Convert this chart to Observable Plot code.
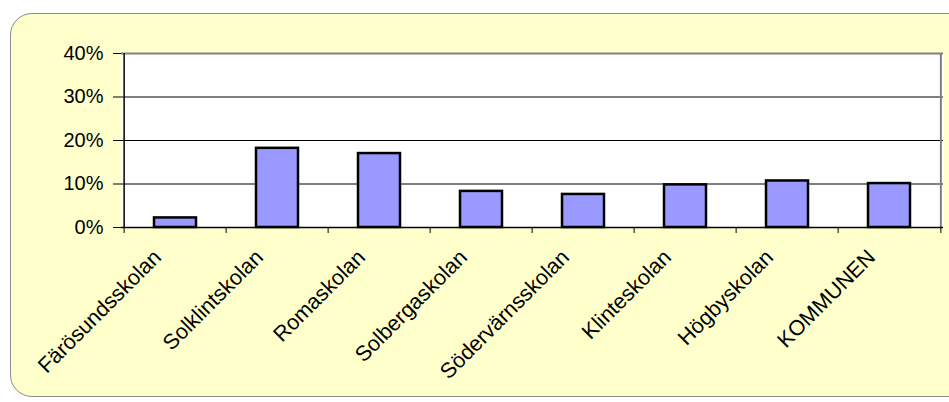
<!DOCTYPE html>
<html>
<head>
<meta charset="utf-8">
<script src="https://cdn.jsdelivr.net/npm/d3@7"></script>
<script src="https://cdn.jsdelivr.net/npm/@observablehq/plot@0.6"></script>
<style>
  html, body { margin: 0; padding: 0; background: #ffffff; }
  #wrap { position: relative; width: 949px; height: 402px; overflow: hidden; }
  #panel { position: absolute; left: 10px; top: 13px; width: 980px; height: 382px;
           background: #FFFFCC; border: 1.5px solid #8a8a8a; border-radius: 22px; }
  #chart { position: absolute; left: 0; top: 0; }
</style>
</head>
<body>
<div id="wrap"><div id="panel"></div><div id="chart"></div></div>
<script>
const schools = ["Färösundsskolan", "Solklintskolan", "Romaskolan", "Solbergaskolan",
                 "Södervärnsskolan", "Klinteskolan", "Högbyskolan", "KOMMUNEN"];
const shares = [2.2, 18.2, 17.0, 8.3, 7.6, 9.8, 10.7, 10.1];
const yTicks = [0, 10, 20, 30, 40];

const data = schools.map((s, i) => ({school: s, share: shares[i]}));

const W = 949, H = 402, mL = 121, mR = 6, mT = 53, mB = 175;
const step = (W - mL - mR) / schools.length;
const font = "Arial, 'Liberation Sans', sans-serif";

const chart = Plot.plot({
  width: W, height: H,
  marginLeft: mL, marginRight: mR, marginTop: mT, marginBottom: mB,
  style: {background: "transparent", fontFamily: font, color: "black", overflow: "visible"},
  x: {domain: schools, paddingInner: 0.59, paddingOuter: 0.295, axis: null},
  y: {domain: [0, 40], axis: null},
  marks: [
    Plot.frame({fill: "white", stroke: null}),
    Plot.ruleY(yTicks.filter(d => d > 0 && d < 40), {stroke: "black", strokeWidth: 1}),
    Plot.ruleY([40], {stroke: "#808080", strokeWidth: 2}),
    Plot.ruleX([schools[schools.length - 1]], {dx: step / 2, stroke: "#808080", strokeWidth: 2}),
    Plot.barY(data, {x: "school", y: "share", fill: "#9999FF", stroke: "black", strokeWidth: 2.5}),
    Plot.ruleY([0], {stroke: "black", strokeWidth: 1.5}),
    Plot.ruleX([schools[0]], {dx: -step / 2, stroke: "black", strokeWidth: 1.5}),
    Plot.axisX({tickSize: 6, tickFormat: () => "", label: null, dx: -step / 2, stroke: "black"}),
    Plot.axisX({ticks: [schools[schools.length - 1]], tickSize: 6, tickFormat: () => "", label: null, dx: step / 2, stroke: "black"}),
    Plot.axisY({ticks: yTicks, tickFormat: d => d + "%", tickSize: 8, tickPadding: 10, label: null,
                fontSize: 20, stroke: "black", fill: "black"}),
    Plot.text(schools, {x: d => d, frameAnchor: "bottom", rotate: -45, textAnchor: "end",
                        dx: -13, dy: 31, fontSize: 21.5, fill: "black"})
  ]
});
document.getElementById("chart").appendChild(chart);
</script>
</body>
</html>
